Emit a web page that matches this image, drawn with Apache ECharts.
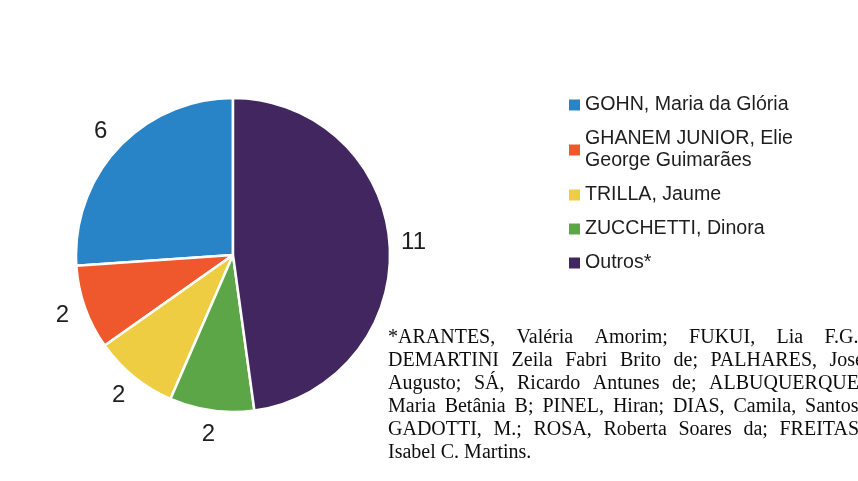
<!DOCTYPE html>
<html>
<head>
<meta charset="utf-8">
<script src="https://cdn.jsdelivr.net/npm/echarts@6/dist/echarts.min.js"></script>
<style>
  html, body { margin: 0; padding: 0; background: #fff; }
  #chart { width: 858px; height: 481px; }
</style>
</head>
<body>
<div id="chart"></div>
<script>
// autores citados
var names = ['GOHN, Maria da Glória', 'GHANEM JUNIOR, Elie George Guimarães', 'TRILLA, Jaume', 'ZUCCHETTI, Dinora', 'Outros*'];
var values = [6, 2, 2, 2, 11];
var colors = ['#2884c6', '#ef582d', '#efcd43', '#5ca648', '#41265f'];
var legendText = {
  'GHANEM JUNIOR, Elie George Guimarães': 'GHANEM JUNIOR, Elie\nGeorge Guimarães'
};
var noteLines = [
  '*ARANTES, Valéria Amorim; FUKUI, Lia F.G.;',
  'DEMARTINI Zeila Fabri Brito de; PALHARES, José',
  'Augusto; SÁ, Ricardo Antunes de; ALBUQUERQUE,',
  'Maria Betânia B; PINEL, Hiran; DIAS, Camila, Santos;',
  'GADOTTI, M.; ROSA, Roberta Soares da; FREITAS,',
  'Isabel C. Martins.'
];

var myChart = echarts.init(document.getElementById('chart'));

var pieData = [];
for (var i = 0; i < names.length; i++) {
  pieData.push({ name: names[i], value: values[i], itemStyle: { color: colors[i] } });
}

// nota de rodape justificada, palavra por palavra
var noteFont = '20px "Liberation Serif"';
var ctx = document.createElement('canvas').getContext('2d');
ctx.font = noteFont;
var noteLeft = 388, noteRight = 864, noteTop = 338, noteStep = 23;
var noteEls = [];
noteLines.forEach(function (line, li) {
  var words = line.split(' ');
  var widths = words.map(function (w) { return ctx.measureText(w).width; });
  var total = widths.reduce(function (a, b) { return a + b; }, 0);
  var last = li === noteLines.length - 1;
  var gap = last ? ctx.measureText(' ').width : (noteRight - noteLeft - total) / (words.length - 1);
  var x = noteLeft;
  words.forEach(function (w, wi) {
    noteEls.push({
      type: 'text',
      x: x,
      y: noteTop + li * noteStep,
      silent: true,
      style: { text: w, font: noteFont, fill: '#0d0d0d', verticalAlign: 'middle', align: 'left' }
    });
    x += widths[wi] + gap;
  });
});

var option = {
  backgroundColor: '#fff',
  animation: false,
  legend: {
    orient: 'vertical',
    left: 569,
    top: 94,
    padding: 0,
    itemWidth: 11,
    itemHeight: 11,
    itemGap: 12,
    icon: 'rect',
    data: names,
    selectedMode: false,
    formatter: function (n) { return legendText[n] || n; },
    itemStyle: { borderWidth: 0 },
    textStyle: {
      fontFamily: '"Liberation Sans", Arial, sans-serif',
      fontSize: 19.6,
      lineHeight: 22,
      color: '#1e1e1e'
    }
  },
  graphic: noteEls,
  series: [
    {
      name: 'Autores',
      type: 'pie',
      center: [233, 255],
      radius: 157,
      startAngle: 90,
      clockwise: false,
      silent: true,
      data: pieData,
      itemStyle: { borderColor: '#fff', borderWidth: 2.5 },
      label: { show: false },
      labelLine: { show: false }
    },
    {
      // anel invisivel so para os rotulos
      name: 'rotulos',
      type: 'pie',
      center: [233, 255],
      radius: [170, 186],
      startAngle: 90,
      clockwise: false,
      silent: true,
      avoidLabelOverlap: false,
      data: names.map(function (n, k) { return { name: n, value: values[k] }; }),
      itemStyle: { color: 'rgba(0,0,0,0)', borderWidth: 0 },
      label: {
        show: true,
        position: 'inside',
        formatter: '{c}',
        fontFamily: '"Liberation Sans", Arial, sans-serif',
        fontSize: 24,
        color: '#1e1e1e'
      },
      labelLine: { show: false }
    }
  ]
};
myChart.setOption(option);
</script>
</body>
</html>
